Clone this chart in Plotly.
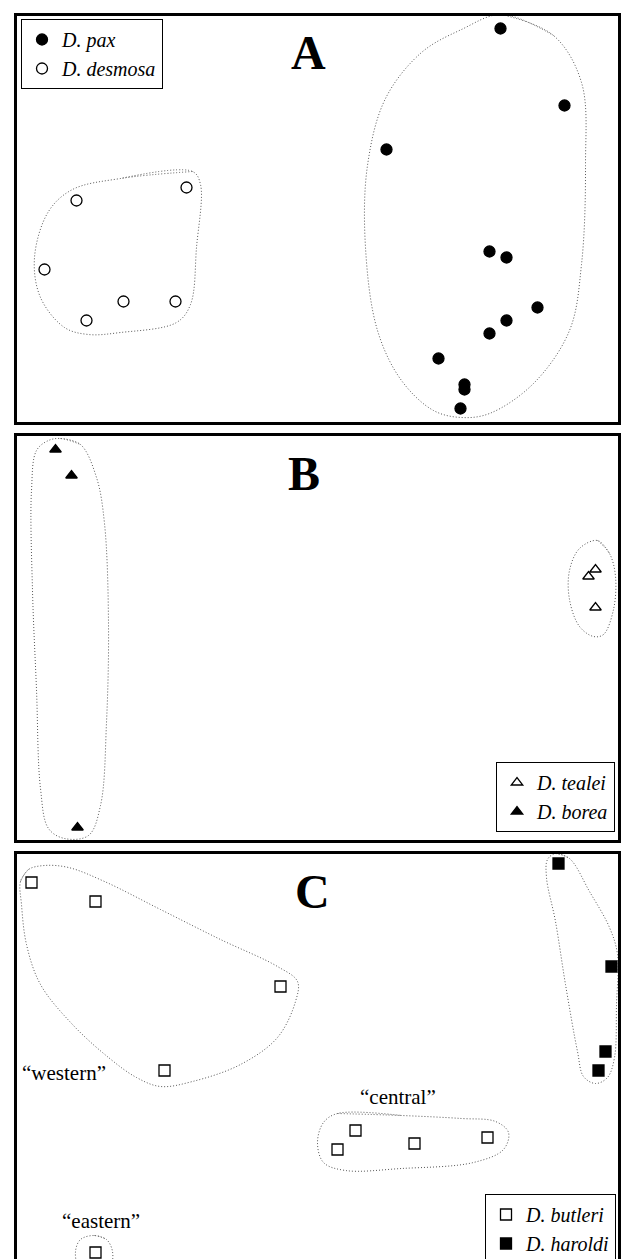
import plotly.graph_objects as go

# ---- panel A : ordination scores ----
pax_x = [485, 549, 371, 474, 491, 522, 491, 474, 423, 449, 449, 445]
pax_y = [395, 318, 274, 172, 166, 116, 103, 90, 65, 39, 34, 15]
desmosa_x = [171, 61, 29, 108, 160, 71]
desmosa_y = [236, 223, 154, 122, 122, 103]

pax_hull_x = [486, 538, 566, 570, 566, 554, 518, 474, 446, 418, 386, 362, 350, 352, 370, 406, 446]
pax_hull_y = [409, 388, 341, 258, 159, 93, 40, 10, 6, 13, 43, 93, 176, 258, 325, 371, 394]
desmosa_hull_x = [177, 105, 57, 33, 19, 25, 49, 73, 105, 161, 175, 181, 185]
desmosa_hull_y = [252, 245, 234, 212, 166, 126, 96, 89, 91, 101, 119, 176, 239]

# ---- panel B ----
tealei_x = [573, 580, 580]
tealei_y = [265, 272, 234]
borea_x = [40, 56, 62]
borea_y = [392, 366, 14]

borea_hull_x = [45, 65, 81, 89, 93, 91, 85, 73, 49, 33, 25, 21, 17, 16, 21, 33]
borea_hull_y = [403, 397, 364, 318, 218, 119, 36, 6, 3, 13, 53, 152, 251, 351, 391, 401]
tealei_hull_x = [582, 594, 600, 598, 588, 578, 564, 554, 554, 564]
tealei_hull_y = [301, 288, 265, 232, 207, 205, 215, 242, 271, 293]

# ---- panel C ----
butleri_x = [16, 80, 265, 149, 340, 322, 399, 472, 80]
butleri_y = [379, 360, 275, 191, 131, 112, 118, 124, 9]
haroldi_x = [543, 596, 590, 583]
haroldi_y = [398, 295, 210, 191]

western_hull_x = [5, 13, 29, 53, 89, 145, 205, 262, 282, 280, 262, 225, 177, 145, 121, 93, 57, 25, 11, 6]
western_hull_y = [380, 392, 396, 394, 380, 352, 322, 295, 280, 260, 224, 197, 180, 175, 184, 204, 237, 277, 317, 357]
central_hull_x = [322, 386, 446, 480, 493, 488, 458, 386, 330, 308, 302, 308]
central_hull_y = [148, 146, 143, 140, 129, 112, 99, 93, 91, 99, 119, 139]
haroldi_hull_x = [540, 554, 574, 594, 602, 601, 599, 592, 580, 568, 562, 550, 540, 531, 532]
haroldi_hull_y = [408, 403, 370, 334, 307, 257, 204, 184, 178, 185, 210, 277, 340, 384, 402]
eastern_hull_x = [79, 91, 97, 95, 79, 63, 60, 65]
eastern_hull_y = [26, 22, 10, -4, -11, -4, 10, 22]

group_names = ["\u201cwestern\u201d", "\u201ccentral\u201d", "\u201ceastern\u201d"]
group_x = [48, 382, 85]
group_y = [189, 165, 41]

panel_letters = ["A", "B", "C"]
letter_x = [293, 288, 297]
letter_y = [371, 368, 370]

# ---- page geometry (pixels) ----
W, H = 628, 1259
LEFT, RIGHT = 15.5, 619.5
PANELS = [(14.5, 423.5), (434.5, 841.5), (852.5, 1261.5)]
SERIF = "Liberation Serif"


def py(p):
    return 1 - p / H


fig = go.Figure()


def closed(xs, ys):
    return xs + xs[:2], ys + ys[:2]


def outline(xs, ys, row):
    cx, cy = closed(xs, ys)
    fig.add_trace(go.Scatter(
        x=cx, y=cy, mode="lines",
        line=dict(color="#555", width=1, dash="1px,2px", shape="spline", smoothing=1.0),
        xaxis="x" if row == 1 else "x%d" % row, yaxis="y" if row == 1 else "y%d" % row,
        showlegend=False, hoverinfo="skip"))


def points(xs, ys, name, symbol, row, legend, size=11):
    fig.add_trace(go.Scatter(
        x=xs, y=ys, mode="markers", name="<i>%s</i>" % name,
        marker=dict(symbol=symbol, size=size, color="black", line=dict(color="black", width=1.3)),
        xaxis="x" if row == 1 else "x%d" % row, yaxis="y" if row == 1 else "y%d" % row,
        legend=legend, hoverinfo="skip"))


outline(pax_hull_x, pax_hull_y, 1)
outline(desmosa_hull_x, desmosa_hull_y, 1)
points(pax_x, pax_y, "D. pax", "circle", 1, "legend")
points(desmosa_x, desmosa_y, "D. desmosa", "circle-open", 1, "legend")

outline(borea_hull_x, borea_hull_y, 2)
outline(tealei_hull_x, tealei_hull_y, 2)
points(tealei_x, tealei_y, "D. tealei", "triangle-up-open", 2, "legend2", 10)
points(borea_x, borea_y, "D. borea", "triangle-up", 2, "legend2", 10)

outline(western_hull_x, western_hull_y, 3)
outline(central_hull_x, central_hull_y, 3)
outline(haroldi_hull_x, haroldi_hull_y, 3)
outline(eastern_hull_x, eastern_hull_y, 3)
points(butleri_x, butleri_y, "D. butleri", "square-open", 3, "legend3")
points(haroldi_x, haroldi_y, "D. haroldi", "square", 3, "legend3")

layout = {}
for i, (top, bottom) in enumerate(PANELS):
    sfx = "" if i == 0 else str(i + 1)
    height = bottom - top
    y_lo = max(0.0, py(bottom))
    y_min = 0 if py(bottom) >= 0 else bottom - H
    layout["xaxis" + sfx] = dict(domain=[LEFT / W, RIGHT / W], range=[0, RIGHT - LEFT], visible=False,
                                 anchor="y" + sfx)
    layout["yaxis" + sfx] = dict(domain=[y_lo, py(top)], range=[y_min, height], visible=False,
                                 anchor="x" + sfx)
    fig.add_shape(type="rect", xref="paper", yref="paper", x0=LEFT / W, x1=RIGHT / W,
                  y0=py(bottom), y1=py(top), line=dict(color="black", width=3))
    fig.add_annotation(x=letter_x[i], y=letter_y[i], xref="x" + sfx, yref="y" + sfx,
                       text="<b>%s</b>" % panel_letters[i], showarrow=False,
                       font=dict(family=SERIF, size=48, color="black"))

for name, gx, gy in zip(group_names, group_x, group_y):
    fig.add_annotation(x=gx, y=gy, xref="x3", yref="y3", text=name, showarrow=False,
                       font=dict(family=SERIF, size=21, color="black"))

legend_style = dict(bgcolor="white", bordercolor="black", borderwidth=1,
                    font=dict(family=SERIF, size=20, color="black"), itemwidth=30, tracegroupgap=0)

fig.update_layout(
    **layout,
    width=W, height=H, margin=dict(l=0, r=0, t=0, b=0, autoexpand=False),
    paper_bgcolor="white", plot_bgcolor="white",
    legend=dict(x=21 / W, y=py(19), xanchor="left", yanchor="top", **legend_style),
    legend2=dict(x=615 / W, y=py(832), xanchor="right", yanchor="bottom", **legend_style),
    legend3=dict(x=616 / W, y=py(1194), xanchor="right", yanchor="top", **legend_style),
)

fig.write_html("out.html", config={"displayModeBar": False},
               post_script="document.body.style.margin='0';document.body.style.overflow='hidden';")
